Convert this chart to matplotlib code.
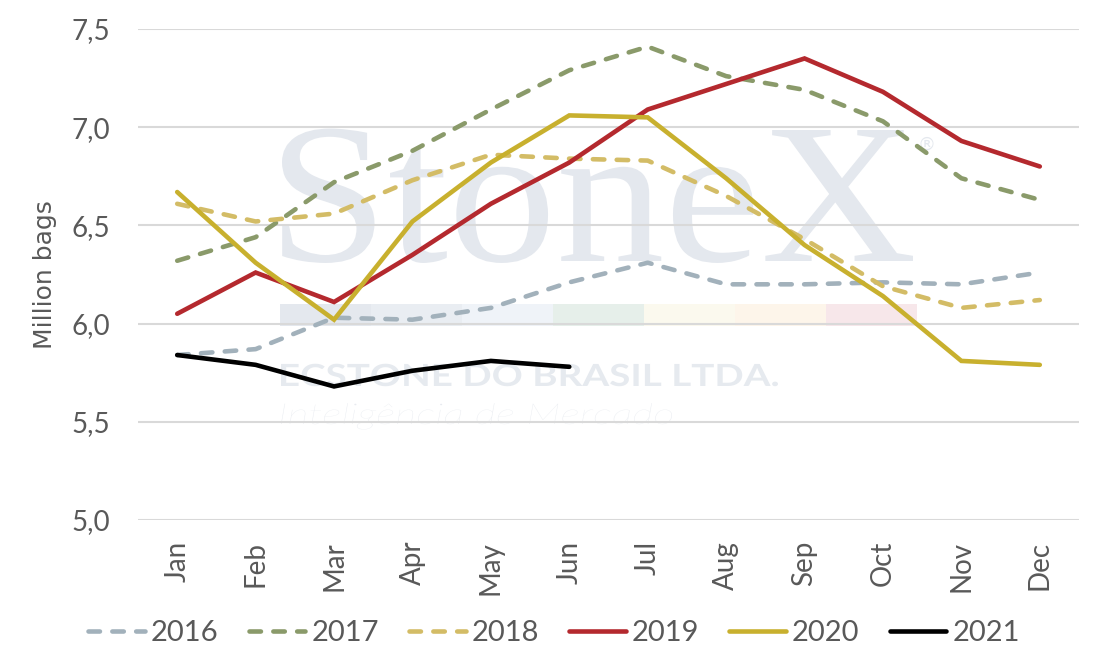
import matplotlib.pyplot as plt
from matplotlib.patches import Rectangle, PathPatch
from matplotlib.textpath import TextPath
from matplotlib.font_manager import FontProperties
from matplotlib.transforms import Affine2D
from matplotlib.ticker import FuncFormatter, MultipleLocator

months = ["Jan", "Feb", "Mar", "Apr", "May", "Jun",
          "Jul", "Aug", "Sep", "Oct", "Nov", "Dec"]

v2016 = [5.84, 5.87, 6.03, 6.02, 6.08, 6.21, 6.31, 6.20, 6.20, 6.21, 6.20, 6.26]
v2017 = [6.32, 6.44, 6.72, 6.88, 7.09, 7.29, 7.41, 7.26, 7.19, 7.03, 6.74, 6.63]
v2018 = [6.61, 6.52, 6.56, 6.73, 6.86, 6.84, 6.83, 6.65, 6.43, 6.19, 6.08, 6.12]
v2019 = [6.05, 6.26, 6.11, 6.35, 6.61, 6.82, 7.09, 7.22, 7.35, 7.18, 6.93, 6.80]
v2020 = [6.67, 6.31, 6.02, 6.52, 6.82, 7.06, 7.05, 6.74, 6.40, 6.14, 5.81, 5.79]
v2021 = [5.84, 5.79, 5.68, 5.76, 5.81, 5.78]

series = [
    ("2016", v2016, "#A2B1BB", True),
    ("2017", v2017, "#8A9A6A", True),
    ("2018", v2018, "#D3BC66", True),
    ("2019", v2019, "#B4292E", False),
    ("2020", v2020, "#C8B02E", False),
    ("2021", v2021, "#000000", False),
]

W, H = 1100, 672
TXT = "#595959"
WM = "#E4E8EE"


def fx(x):
    return x / W


def fy(y):
    return 1 - y / H


fig = plt.figure(figsize=(W / 100, H / 100), dpi=100)
ax = fig.add_axes([fx(138), fy(520), (1079 - 138) / W, (520 - 29) / H])


def wm_text(s, x0, base, width, size, color, **font):
    # watermark text drawn as a path, stretched to the wanted width (pixels)
    tp = TextPath((0, 0), s, size=size, prop=FontProperties(**font))
    ext = tp.get_extents()
    sx = width / ext.width
    tr = (Affine2D().translate(-ext.x0, 0).scale(sx, 1).translate(x0, H - base)
          .scale(1 / W, 1 / H) + fig.transFigure)
    ax.add_patch(PathPatch(tp, transform=tr, facecolor=color, edgecolor="none",
                           zorder=0.2))


wm_text("StoneX", 282, 261, 631, 200, WM, family="Liberation Serif")
ax.text(fx(918), fy(150), "®", family="DejaVu Sans", fontsize=13, color=WM,
        transform=fig.transFigure, zorder=0.2)
wm_text("ECSTONE DO BRASIL LTDA.", 281, 386, 497, 30.5, "#E6EAEF",
        family="Lato", weight="bold")
wm_text("Inteligência de Mercado", 281, 424, 391, 29, "#E8EBF0",
        family="Lato", style="italic", weight="light")

band = ["#E4E8EE", "#E9EDF2", "#EFF3F8", "#E6EFEA", "#FBF9EE", "#FDF5EA", "#F7E7EA"]
for i, c in enumerate(band):
    ax.add_patch(Rectangle((fx(280 + i * 91), fy(326)), 91 / W, 22 / H,
                           transform=fig.transFigure, facecolor=c,
                           edgecolor="none", zorder=0.1))

x = list(range(len(months)))
for label, vals, color, dashed in series:
    kw = dict(color=color, lw=3.3, label=label, zorder=2,
              solid_capstyle="round", dash_capstyle="round", solid_joinstyle="miter")
    if dashed:
        kw["dashes"] = (2.5, 2.7)
    ax.plot(x[:len(vals)], vals, **kw)

ax.set_xlim(-0.5, 11.5)
ax.set_ylim(5.0, 7.5)
ax.yaxis.set_major_locator(MultipleLocator(0.5))
ax.yaxis.set_major_formatter(FuncFormatter(lambda v, p: f"{v:.1f}".replace(".", ",")))
ax.set_xticks(x)
ax.set_xticklabels(months, rotation=90)

ax.grid(axis="y", color="#D9D9D9", lw=1.5)
ax.set_axisbelow(True)
for s in ax.spines.values():
    s.set_visible(False)

ax.tick_params(axis="y", length=0, pad=20, labelsize=20, labelcolor=TXT)
ax.tick_params(axis="x", length=0, pad=15, labelsize=20, labelcolor=TXT)
for t in ax.get_xticklabels() + ax.get_yticklabels():
    t.set_family("Lato")

ax.set_ylabel("Million bags", family="DejaVu Sans", fontsize=18, color=TXT)
ax.yaxis.set_label_coords((57 - 138) / 941, 0.5)

fig.legend(loc="center", bbox_to_anchor=(fx(554), fy(633)), ncol=6, frameon=False,
           prop={"family": "Lato", "size": 21}, labelcolor=TXT,
           handlelength=1.95, handletextpad=0.2, columnspacing=1.03)

fig.savefig("out.png", dpi=100)
